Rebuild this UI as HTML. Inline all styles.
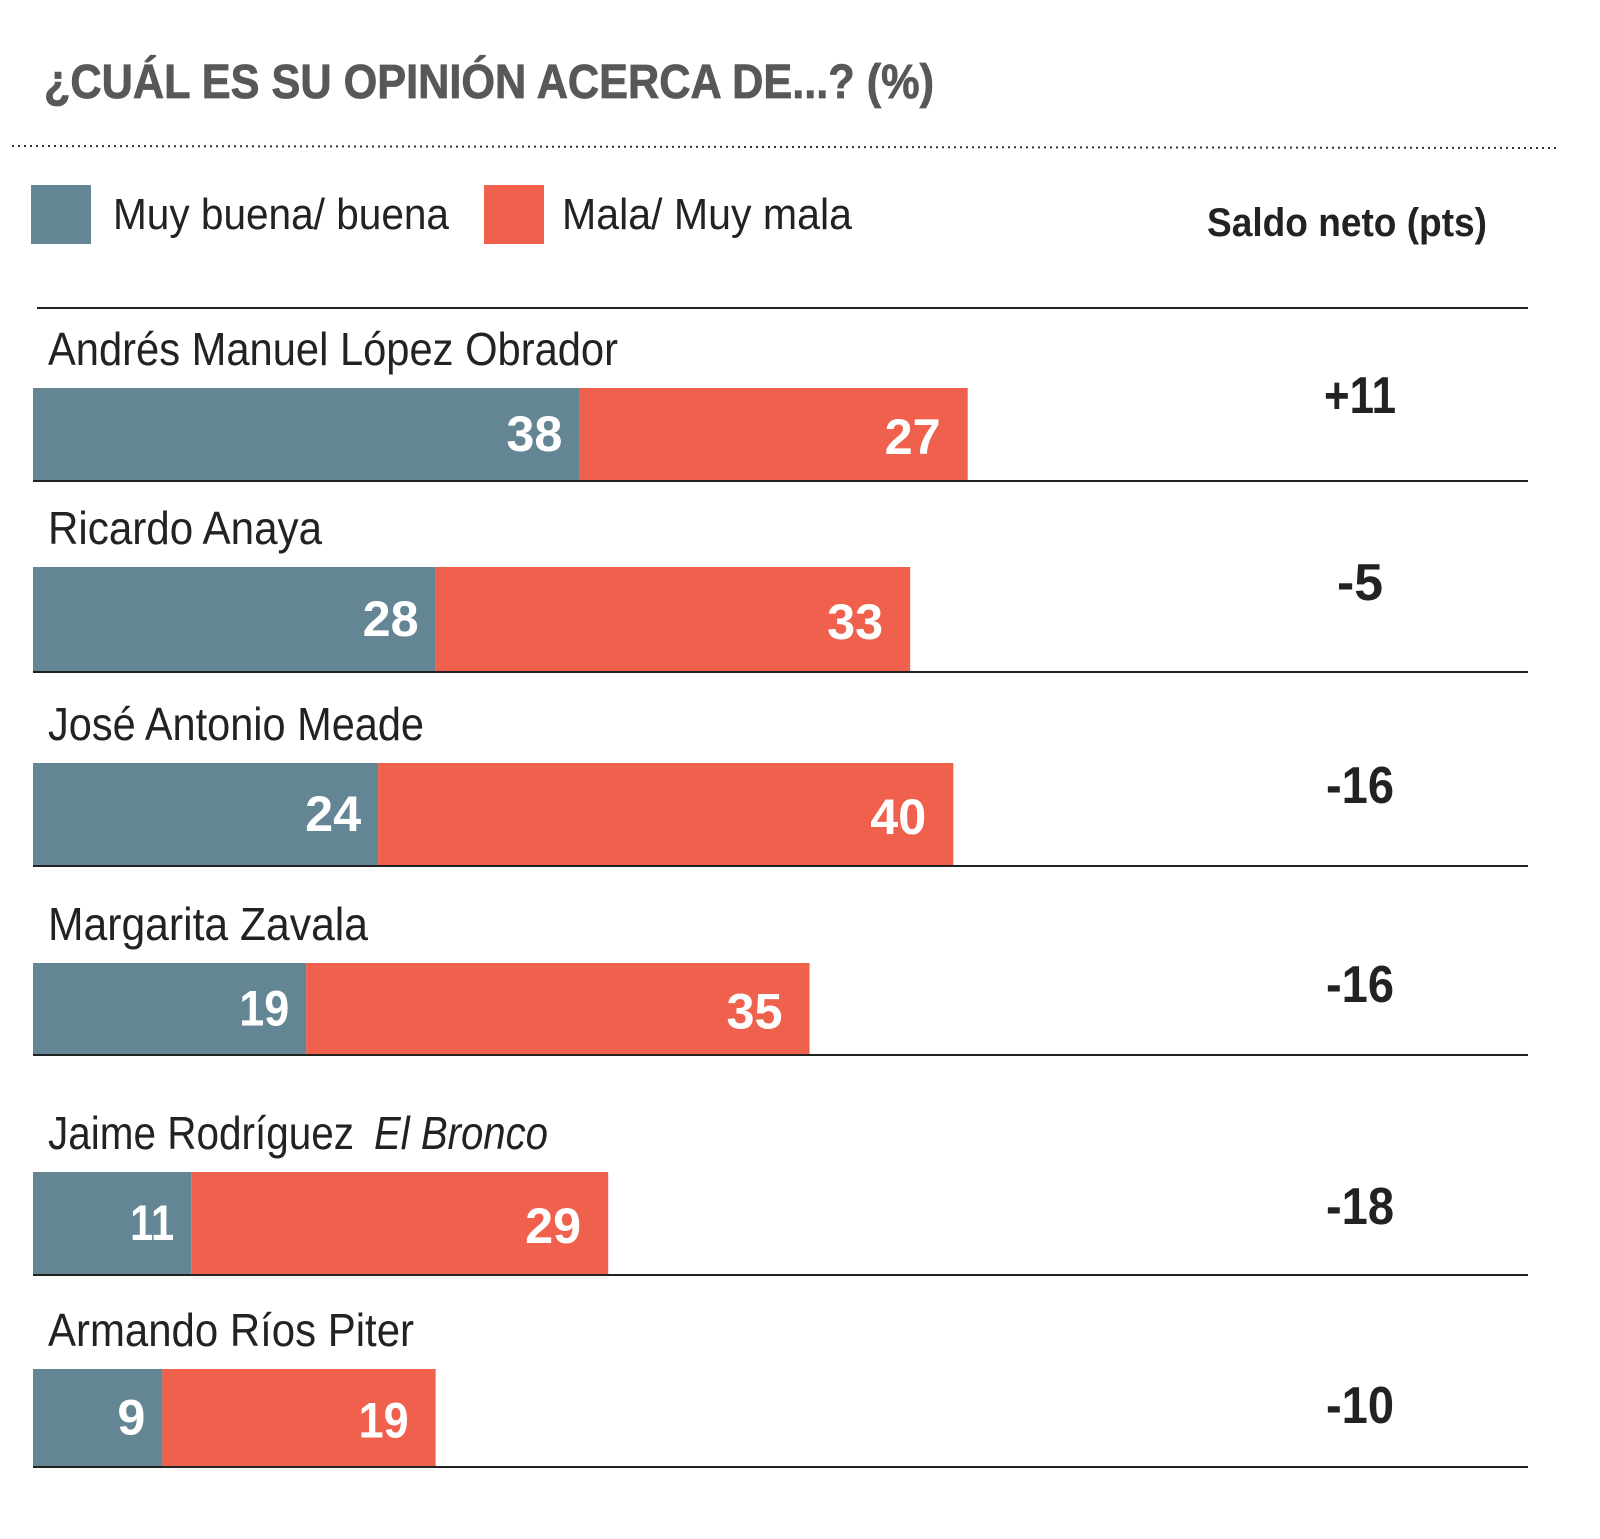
<!DOCTYPE html>
<html><head><meta charset="utf-8"><style>
html,body{margin:0;padding:0;background:#fff;}
svg{display:block;}
</style></head><body>
<svg id="chart" width="1600" height="1539" viewBox="0 0 1600 1539" xmlns="http://www.w3.org/2000/svg" font-family="'Liberation Sans Narrow','Liberation Sans',sans-serif">
<text x="44" y="98" font-size="48" font-weight="bold" fill="#58585a" stroke="#58585a" stroke-width="0.8" textLength="890" lengthAdjust="spacingAndGlyphs">¿CUÁL ES SU OPINIÓN ACERCA DE...? (%)</text>
<line x1="12" y1="146" x2="1560" y2="148" stroke="#333" stroke-width="2" stroke-dasharray="2,4"/>
<rect x="31" y="185" width="60" height="59" fill="#648594"/>
<text x="113" y="229" font-size="44" fill="#222" textLength="336" lengthAdjust="spacingAndGlyphs">Muy buena/ buena</text>
<rect x="484" y="185" width="60" height="59" fill="#ef614c"/>
<text x="562" y="229" font-size="44" fill="#222" textLength="290" lengthAdjust="spacingAndGlyphs">Mala/ Muy mala</text>
<text x="1207" y="236" font-size="40" font-weight="bold" fill="#222" textLength="280" lengthAdjust="spacingAndGlyphs">Saldo neto (pts)</text>
<line x1="37" y1="308" x2="1528" y2="308" stroke="#222" stroke-width="2"/>
<g id="rows"></g>
</svg>
<script>
const names = ["Andrés Manuel López Obrador","Ricardo Anaya","José Antonio Meade","Margarita Zavala","Jaime Rodríguez","Armando Ríos Piter"];
const buena = [38,28,24,19,11,9];
const mala = [27,33,40,35,29,19];
const saldo = ["+11","-5","-16","-16","-18","-10"];
const nameWidths=[570,274,376,320,306,366];
const barTop=[388,567,763,963,1172,1369];
const barBot=[480,671,865,1054,1274,1466];
const x0=33, scale=14.38;
const xs=v=>x0+v*scale;
const ns="http://www.w3.org/2000/svg";
const g=document.getElementById('rows');
function mk(tag,attrs){const e=document.createElementNS(ns,tag);for(const k in attrs)e.setAttribute(k,attrs[k]);g.appendChild(e);return e;}
function numW(s){let w=0;for(const c of String(s)){w+= (c==='1')?22:(c==='+'||c==='-')?(c==='+'?28:18):28;}return w;}
names.forEach((n,i)=>{
  const t=barTop[i], b=barBot[i], h=b-t;
  const lab=mk('text',{x:48,y:t-23,'font-size':46,fill:'#222',textLength:nameWidths[i],lengthAdjust:'spacingAndGlyphs'});
  lab.textContent=n;
  
  
  if(i===4){
    const it=mk('text',{x:374,y:t-23,'font-size':46,fill:'#222','font-style':'italic',textLength:174,lengthAdjust:'spacingAndGlyphs'});
    it.textContent='El Bronco';
    
    
  }
  const r1=mk('rect',{x:x0,y:t,width:xs(buena[i])-x0,height:h,fill:'#648594'});
  
  
  const r2=mk('rect',{x:xs(buena[i]),y:t,width:xs(buena[i]+mala[i])-xs(buena[i]),height:h,fill:'#ef614c'});
  
  
  const cy=t+h/2+17;
  const v1=mk('text',{x:xs(buena[i])-17,y:cy,'font-size':50,'font-weight':'bold',fill:'#fff','text-anchor':'end',textLength:numW(buena[i]),lengthAdjust:'spacingAndGlyphs'});
  v1.textContent=buena[i];
  
  
  const v2=mk('text',{x:xs(buena[i]+mala[i])-27,y:cy+3,'font-size':50,'font-weight':'bold',fill:'#fff','text-anchor':'end',textLength:numW(mala[i]),lengthAdjust:'spacingAndGlyphs'});
  v2.textContent=mala[i];
  
  
  const s=mk('text',{x:1360,y:t+25+[0,8,15,14,27,29][i],'font-size':52,'font-weight':'bold',fill:'#222','text-anchor':'middle',textLength:numW(saldo[i]),lengthAdjust:'spacingAndGlyphs'});
  s.textContent=saldo[i];
  
  
  const ln=mk('line',{x1:33,y1:b+1,x2:1528,y2:b+1,stroke:'#222','stroke-width':2});
  
  
});
</script>
</body></html>
